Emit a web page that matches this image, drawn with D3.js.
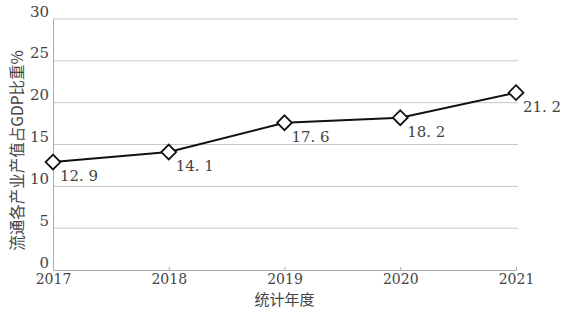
<!DOCTYPE html>
<html>
<head>
<meta charset="utf-8">
<script src="https://cdn.jsdelivr.net/npm/d3@7"></script>
<style>
  body { margin: 0; background: #fff; }
</style>
</head>
<body>
<svg id="chart" width="563" height="311"></svg>
<script>
// data
var years = ["2017", "2018", "2019", "2020", "2021"];
var shares = [12.9, 14.1, 17.6, 18.2, 21.2];
var yTicks = [0, 5, 10, 15, 20, 25, 30];

var serif = "DejaVu Serif, Liberation Serif, serif";
var cjk = "Noto Sans CJK SC, sans-serif";

var svg = d3.select("#chart");
var margin = {left: 53, right: 47, top: 19, bottom: 41};
var W = 563, H = 311;

var x = d3.scalePoint().domain(years).range([margin.left, W - margin.right]);
var y = d3.scaleLinear().domain([0, 30]).range([H - margin.bottom, margin.top]);

// gridlines
svg.append("g")
  .selectAll("line")
  .data(yTicks.slice(1))
  .enter().append("line")
  .attr("x1", margin.left).attr("x2", W - margin.right + 2)
  .attr("y1", d => y(d)).attr("y2", d => y(d))
  .attr("stroke", "#c8c8c8").attr("stroke-width", 1);

// y axis
var yAxis = d3.axisLeft(y).tickValues(yTicks).tickSize(0).tickPadding(4);
var gy = svg.append("g").attr("transform", "translate(" + margin.left + ",0)").call(yAxis);
gy.attr("font-family", null);
gy.select(".domain").attr("stroke", "#aaa");
gy.selectAll("text")
  .attr("font-family", serif).attr("font-size", 15)
  .attr("fill", "#444").attr("dy", "-0.2em");

// x axis
var xAxis = d3.axisBottom(x).tickSize(3).tickSizeOuter(0).tickPadding(1);
var gx = svg.append("g").attr("transform", "translate(0," + y(0) + ")").call(xAxis);
gx.attr("font-family", null);
gx.select(".domain").attr("stroke", "#aaa");
gx.selectAll(".tick line").attr("stroke", "#aaa").attr("transform", "translate(0,-3)");
gx.selectAll("text")
  .attr("font-family", serif).attr("font-size", 14)
  .attr("fill", "#444");

// axis titles
svg.append("text")
  .attr("transform", "translate(23," + ((y(0) + y(30)) / 2 + 6) + ") rotate(-90)")
  .attr("text-anchor", "middle")
  .attr("font-family", cjk)
  .attr("font-size", 15.5)
  .attr("fill", "#444")
  .text("流通各产业产值占GDP比重%");

svg.append("text")
  .attr("x", x("2019")).attr("y", 305)
  .attr("text-anchor", "middle")
  .attr("font-family", cjk)
  .attr("font-size", 15)
  .attr("fill", "#444")
  .text("统计年度");

// line
var line = d3.line()
  .x((d, i) => x(years[i]))
  .y(d => y(d));

svg.append("path")
  .datum(shares)
  .attr("d", line)
  .attr("fill", "none")
  .attr("stroke", "#111")
  .attr("stroke-width", 2);

// markers
var diamond = d3.symbol().type(d3.symbolDiamond2).size(140);
svg.append("g")
  .selectAll("path")
  .data(shares)
  .enter().append("path")
  .attr("d", diamond)
  .attr("transform", (d, i) => "translate(" + x(years[i]) + "," + y(d) + ")")
  .attr("fill", "#fff")
  .attr("stroke", "#111")
  .attr("stroke-width", 1.8);

// value labels
svg.append("g")
  .selectAll("text")
  .data(shares)
  .enter().append("text")
  .attr("x", (d, i) => x(years[i]) + 7)
  .attr("y", d => y(d) + 19)
  .attr("font-family", serif)
  .attr("font-size", 15)
  .attr("fill", "#444")
  .text(d => d.toFixed(1).replace(".", ". "));
</script>
</body>
</html>
